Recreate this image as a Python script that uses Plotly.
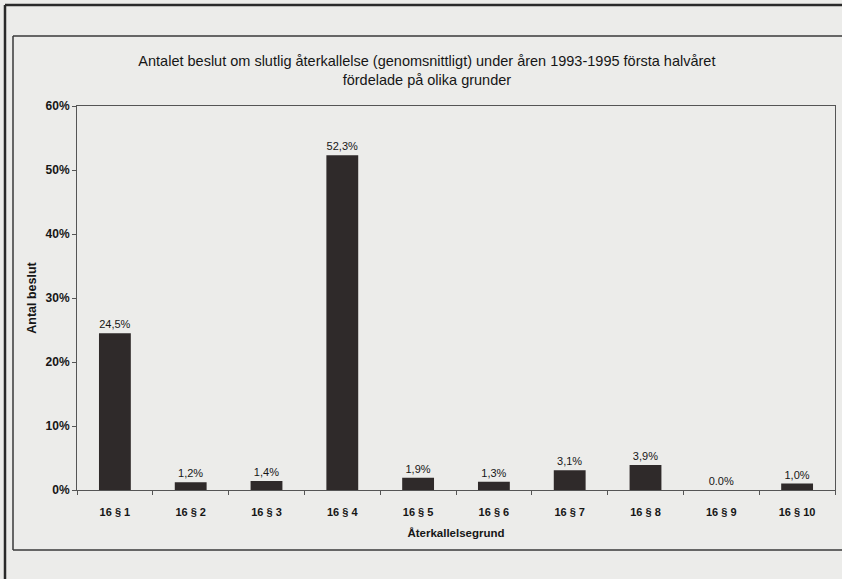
import plotly.graph_objects as go

categories = ["16 § 1", "16 § 2", "16 § 3", "16 § 4", "16 § 5",
              "16 § 6", "16 § 7", "16 § 8", "16 § 9", "16 § 10"]
values_pct = [24.5, 1.2, 1.4, 52.3, 1.9, 1.3, 3.1, 3.9, 0.0, 1.0]
bar_labels = ["24,5%", "1,2%", "1,4%", "52,3%", "1,9%",
              "1,3%", "3,1%", "3,9%", "0.0%", "1,0%"]
y_ticks = [0, 0.1, 0.2, 0.3, 0.4, 0.5, 0.6]
y_tick_labels = ["0%", "10%", "20%", "30%", "40%", "50%", "60%"]

title_text = ("Antalet beslut om slutlig återkallelse (genomsnittligt) under åren 1993-1995 första halvåret"
              "<br>fördelade på olika grunder")

BG = "#ececea"
BAR = "#2f2a2a"
INK = "#161616"
FONT = "Liberation Sans"

fig = go.Figure()
fig.add_trace(go.Bar(
    x=categories,
    y=[v / 100 for v in values_pct],
    text=bar_labels,
    textposition="outside",
    textfont=dict(family=FONT, size=11, color=INK),
    cliponaxis=False,
    marker=dict(color=BAR, line=dict(width=0)),
    width=0.42,
))

W, H = 842, 579
L, R, T, B = 77, 835, 106, 490
pw, ph = R - L, B - T

def px(x):
    return (x - L) / pw

def py(y):
    return (B - y) / ph

shapes = [
    # outer frame (left and top edges visible)
    dict(type="line", xref="paper", yref="paper",
         x0=px(5), x1=px(5), y0=py(579), y1=py(5),
         line=dict(color="#2a2a2a", width=2.5)),
    dict(type="line", xref="paper", yref="paper",
         x0=px(5), x1=px(842), y0=py(5), y1=py(5),
         line=dict(color="#2a2a2a", width=2.5)),
    # inner frame (left, top, bottom edges)
    dict(type="line", xref="paper", yref="paper",
         x0=px(13), x1=px(13), y0=py(550), y1=py(36),
         line=dict(color="#3a3a3a", width=1.5)),
    dict(type="line", xref="paper", yref="paper",
         x0=px(13), x1=px(842), y0=py(36), y1=py(36),
         line=dict(color="#3a3a3a", width=1.5)),
    dict(type="line", xref="paper", yref="paper",
         x0=px(13), x1=px(842), y0=py(550), y1=py(550),
         line=dict(color="#3a3a3a", width=1.5)),
]

fig.update_layout(
    width=W, height=H,
    margin=dict(l=L, r=W - R, t=T, b=H - B),
    paper_bgcolor=BG, plot_bgcolor=BG,
    showlegend=False,
    bargap=0.58,
    font=dict(family=FONT, size=11, color=INK),
    title=dict(text=title_text, x=0.507, xanchor="center", y=1 - 66 / H, yanchor="top",
               font=dict(family=FONT, size=14.5, color=INK)),
    xaxis=dict(
        showline=True, linecolor="#555555", linewidth=1, mirror=True,
        ticks="outside", ticklen=4, tickcolor="#555555", tickson="boundaries",
        ticklabelstandoff=12,
        tickfont=dict(family=FONT, size=11, color=INK, weight="bold"),
        title=dict(text="Återkallelsegrund", standoff=11,
                   font=dict(family=FONT, size=11.5, color=INK, weight="bold")),
        showgrid=False,
    ),
    yaxis=dict(
        range=[0, 0.6],
        tickvals=y_ticks, ticktext=y_tick_labels,
        showline=True, linecolor="#555555", linewidth=1, mirror=True,
        ticks="outside", ticklen=4, tickcolor="#555555",
        tickfont=dict(family=FONT, size=12, color=INK, weight="bold"),
        title=dict(text="Antal beslut", standoff=6,
                   font=dict(family=FONT, size=12.5, color=INK, weight="bold")),
        showgrid=False, zeroline=False,
    ),
    shapes=shapes,
)

fig.write_html("out.html")
